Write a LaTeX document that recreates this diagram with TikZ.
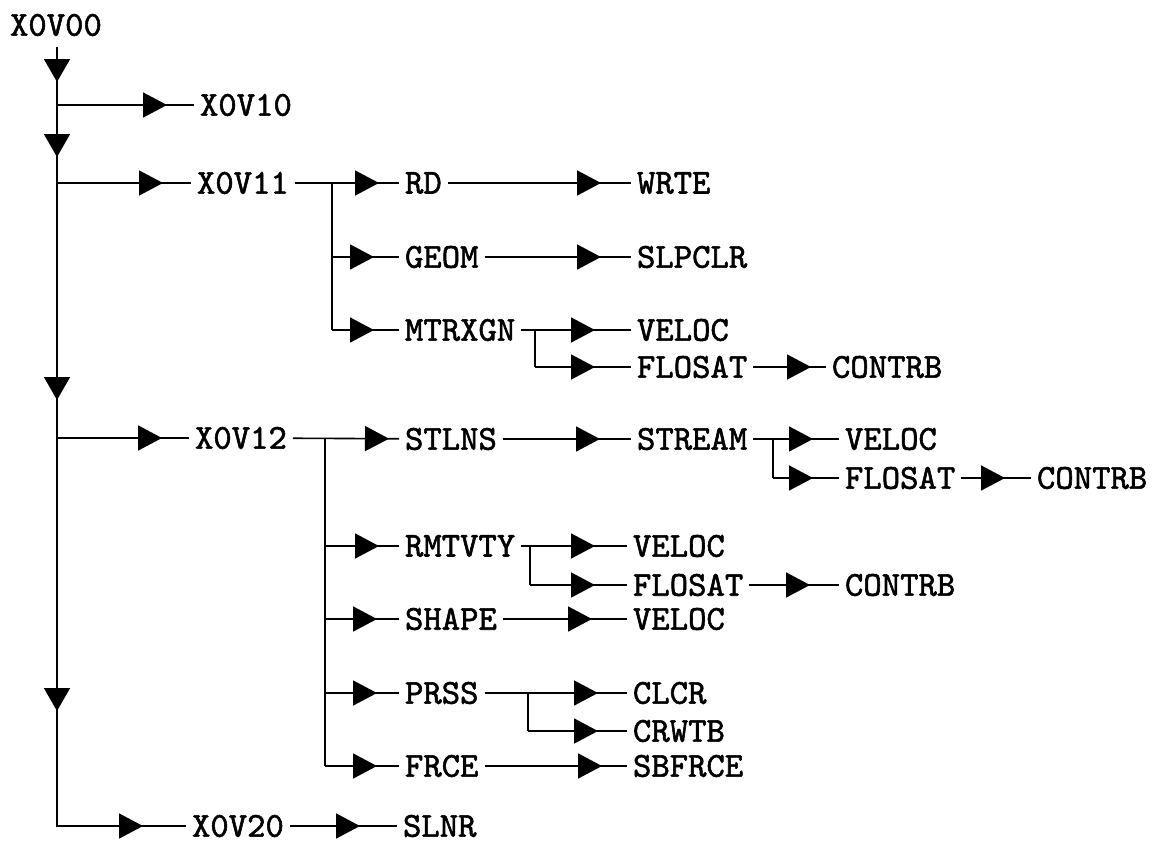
\documentclass[tikz,border=0pt]{standalone}
\usepackage{fontspec}
\usepackage{tikz}
\usetikzlibrary{arrows.meta, positioning, calc, decorations.markings}

\newfontfamily\progfont{lmmono10-regular}[Extension=.otf, FakeBold=1.6]

\tikzset{
    big/.tip={Triangle[length=24pt, width=25pt]},
    prog/.style={font=\progfont\fontsize{35}{40}\selectfont, inner xsep=6pt, inner ysep=0pt, outer sep=0pt, anchor=west},
    link/.style={line width=1.6pt},
    flow/.style={link, postaction={decorate},
        decoration={markings, mark=at position -#1 with {\arrow{big}}}},
    flow/.default=28pt,
}

\begin{document}
\begin{tikzpicture}[x=1pt, y=-1pt]
    \useasboundingbox (0,0) rectangle (1153,846);

    % Main program
    \node[prog] (x0v00) at (4,25) {X0V00};
    \node[prog] (x0v10) at (194,105) {X0V10};
    \node[prog] (x0v11) at (191,183) {X0V11};
    \node[prog] (x0v12) at (189,438) {X0V12};
    \node[prog] (x0v20) at (186,826) {X0V20};
    \node[prog] (slnr) at (397,826) {SLNR};

    \coordinate (top) at (57,47);
    \draw[link, postaction={decorate}, decoration={markings,
        mark=at position 35pt with {\arrow{Triangle[length=23pt, width=26pt]}},
        mark=at position 110pt with {\arrow{Triangle[length=23pt, width=26pt]}},
        mark=at position 353pt with {\arrow{Triangle[length=23pt, width=26pt]}},
        mark=at position 664pt with {\arrow{Triangle[length=23pt, width=26pt]}},
        mark=at position -43pt with {\arrow{big}}}] (top) |- (x0v20);

    \draw[flow=27pt] (top |- x0v10) -- (x0v10);
    \draw[flow=28pt] (top |- x0v11) -- (x0v11);
    \draw[flow=27pt] (top |- x0v12) -- (x0v12);
    \draw[flow=37pt] (x0v20) -- (slnr);

    % Overlay X0V11
    \node[prog] (rd) at (399,183) {RD};
    \node[prog] (wrte) at (631,183) {WRTE};
    \node[prog] (geom) at (399,257) {GEOM};
    \node[prog] (slpclr) at (631,257) {SLPCLR};
    \node[prog] (mtrxgn) at (399,330) {MTRXGN};
    \node[prog] (veloc1) at (631,330) {VELOC};
    \node[prog] (flosat1) at (631,367) {FLOSAT};
    \node[prog] (contrb1) at (826,367) {CONTRB};

    \coordinate (b11) at (332,183);
    \coordinate (bm) at (535,330);
    \draw[flow=20pt] (x0v11) -- (rd);
    \draw[link] (b11) -- (b11 |- mtrxgn);
    \draw[flow=25pt] (b11 |- geom) -- (geom);
    \draw[flow=25pt] (b11 |- mtrxgn) -- (mtrxgn);
    \draw[flow=30pt] (rd) -- (wrte);
    \draw[flow=30pt] (geom) -- (slpclr);
    \draw[flow=36pt] (mtrxgn) -- (veloc1);
    \draw[link] (bm) -- (bm |- flosat1);
    \draw[flow=36pt] (bm |- flosat1) -- (flosat1);
    \draw[flow=15pt] (flosat1) -- (contrb1);

    % Overlay X0V12
    \node[prog] (stlns) at (399,439) {STLNS};
    \node[prog] (stream) at (631,439) {STREAM};
    \node[prog] (veloc2) at (839,439) {VELOC};
    \node[prog] (flosat2) at (839,478) {FLOSAT};
    \node[prog] (contrb2) at (1031,478) {CONTRB};
    \node[prog] (rmtvty) at (399,546) {RMTVTY};
    \node[prog] (veloc3) at (627,546) {VELOC};
    \node[prog] (flosat3) at (627,585) {FLOSAT};
    \node[prog] (contrb3) at (839,585) {CONTRB};
    \node[prog] (shape) at (399,619) {SHAPE};
    \node[prog] (veloc4) at (627,619) {VELOC};
    \node[prog] (prss) at (399,693) {PRSS};
    \node[prog] (clcr) at (627,693) {CLCR};
    \node[prog] (crwtb) at (627,731) {CRWTB};
    \node[prog] (frce) at (399,766) {FRCE};
    \node[prog] (sbfrce) at (627,766) {SBFRCE};

    \coordinate (b12) at (325,439);
    \coordinate (bs) at (773,439);
    \coordinate (br) at (530,546);
    \coordinate (bp) at (528,693);
    \draw[flow=10pt] (x0v12) -- (stlns);
    \draw[link] (b12) -- (b12 |- frce);
    \draw[flow=20pt] (b12 |- rmtvty) -- (rmtvty);
    \draw[flow=22pt] (b12 |- shape) -- (shape);
    \draw[flow=22pt] (b12 |- prss) -- (prss);
    \draw[flow=22pt] (b12 |- frce) -- (frce);

    \draw[flow=31pt] (stlns) -- (stream);
    \draw[flow=26pt] (stream) -- (veloc2);
    \draw[link] (bs) -- (bs |- flosat2);
    \draw[flow=26pt] (bs |- flosat2) -- (flosat2);
    \draw[flow=26pt] (flosat2) -- (contrb2);

    \draw[flow=32pt] (rmtvty) -- (veloc3);
    \draw[link] (br) -- (br |- flosat3);
    \draw[flow=32pt] (br |- flosat3) -- (flosat3);
    \draw[flow=29pt] (flosat3) -- (contrb3);
    \draw[flow=35pt] (shape) -- (veloc4);

    \draw[flow=29pt] (prss) -- (clcr);
    \draw[link] (bp) -- (bp |- crwtb);
    \draw[flow=29pt] (bp |- crwtb) -- (crwtb);
    \draw[flow=25pt] (frce) -- (sbfrce);
\end{tikzpicture}
\end{document}
